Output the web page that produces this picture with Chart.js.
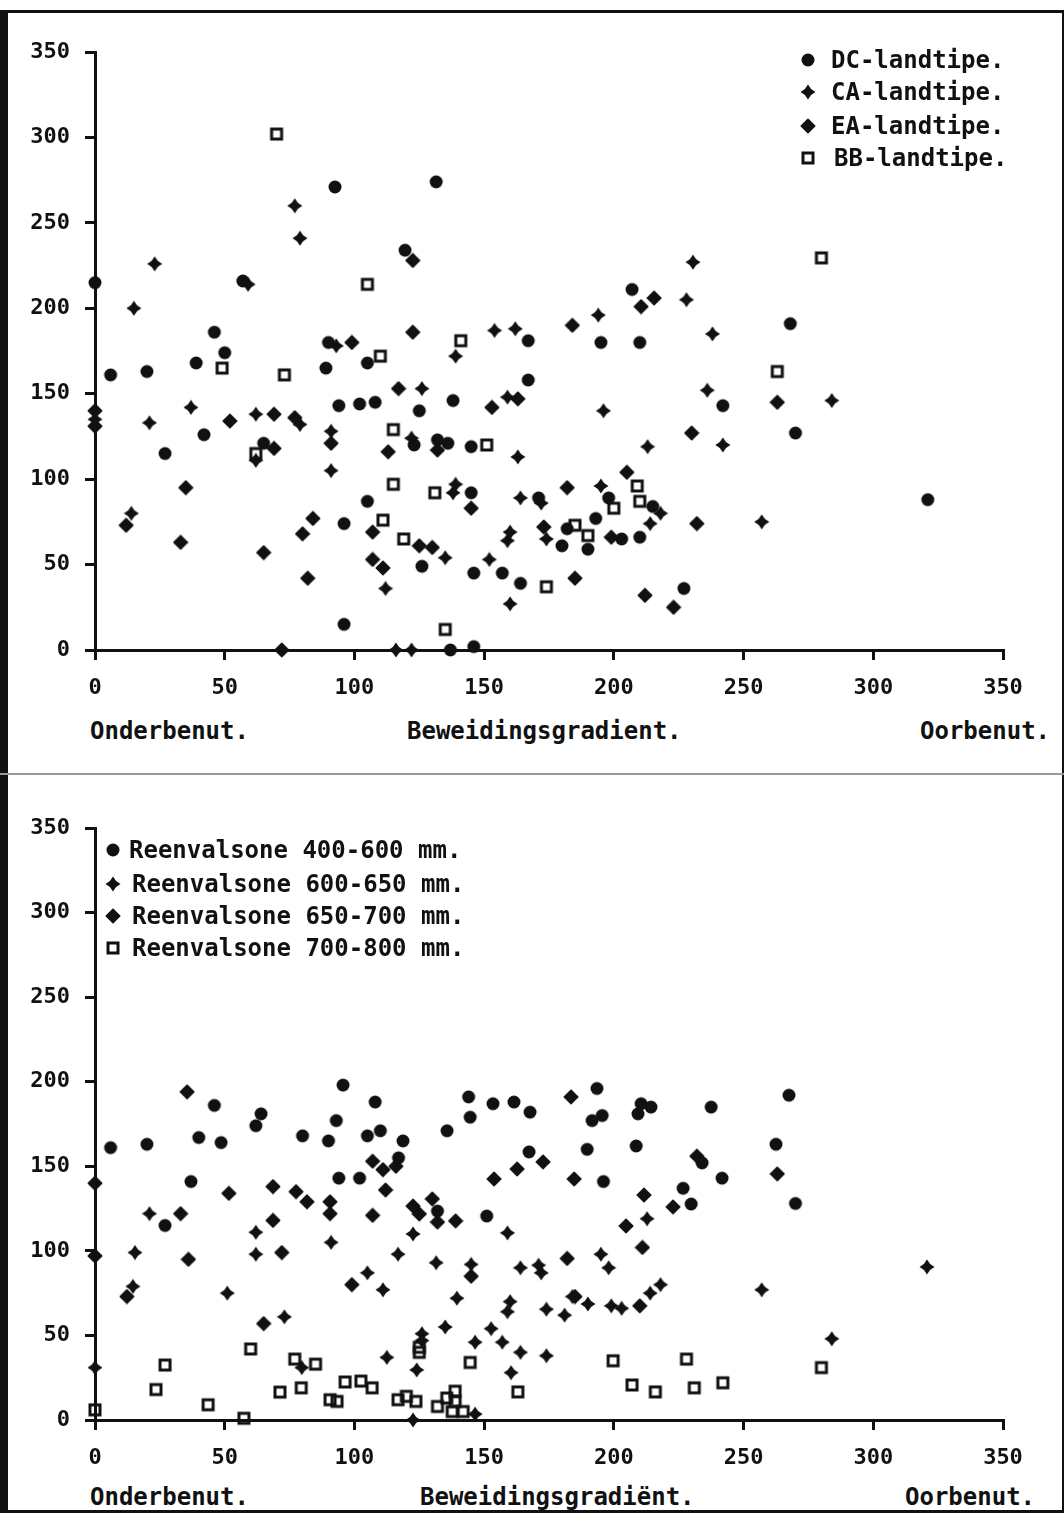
<!DOCTYPE html>
<html lang="af">
<head>
<meta charset="UTF-8">
<title>Beweidingsgradient</title>
<script src="https://cdn.jsdelivr.net/npm/chart.js"></script>
<style>
  body {
    margin: 0;
    width: 1064px;
    height: 1516px;
    position: relative;
    overflow: hidden;
    background: #fff;
    color: #111;
    font-family: 'DejaVu Sans Mono', monospace;
    font-weight: bold;
  }
  .frame {
    position: absolute;
    left: 0; top: 10px;
    width: 1054px; height: 1497px;
    border: 3px solid #111;
    border-left-width: 8px;
    border-right-width: 2px;
  }
  .sep {
    position: absolute;
    left: 0; top: 773px;
    width: 1064px; height: 2px;
    background: #9a9a9a;
  }
  .plot { position: absolute; left: 0; width: 1064px; }
  .caption {
    position: absolute;
    font-size: 24px;
    line-height: 24px;
    white-space: pre;
  }
  .legend { position: absolute; font-size: 24px; line-height: 24px; }
  .legend .row { position: absolute; display: flex; align-items: center; white-space: pre; }
  .legend .mark { display: inline-block; }
</style>
</head>
<body>
<div class="frame"></div>
<div class="sep"></div>

<div class="plot" style="top:0;height:710px"><canvas id="landChart"></canvas></div>
<div class="plot" style="top:780px;height:700px"><canvas id="rainChart"></canvas></div>

<div class="legend" id="landLegend" style="left:800px;top:0"></div>
<div class="legend" id="rainLegend" style="left:105px;top:0"></div>

<div class="caption" style="left:90px;top:719px">Onderbenut.</div>
<div class="caption" style="left:407px;top:719px">Beweidingsgradient.</div>
<div class="caption" style="left:920px;top:719px">Oorbenut.</div>

<div class="caption" style="left:90px;top:1485px">Onderbenut.</div>
<div class="caption" style="left:420px;top:1485px">Beweidingsgradiënt.</div>
<div class="caption" style="left:905px;top:1485px">Oorbenut.</div>

<script>
// axis ticks (both charts)
const xTicks = [0, 50, 100, 150, 200, 250, 300, 350];
const yTicks = [0, 50, 100, 150, 200, 250, 300, 350];

// top chart: land types, [gradient, value]
const landLabels = ['DC-landtipe.', 'CA-landtipe.', 'EA-landtipe.', 'BB-landtipe.'];
const dcPoints = [
  [0,215],[6,161],[20,163],[27,115],[39,168],[42,126],[46,186],[50,174],[57,216],[65,121],
  [89,165],[90,180],[92.5,271],[94,143],[96,74],[96,15],[102,144],[105,168],[105,87],[108,145],
  [119.5,234],[123,120],[125,140],[126,49],[131.5,274],[132,123],[136,121],[137,0],[138,146],[145,119],
  [145,92],[146,45],[146,2],[157,45],[164,39],[167,181],[167,158],[171,89],[180,61],[182,71],
  [190,59],[193,77],[195,180],[198,89],[203,65],[207,211],[210,180],[210,66],[215,84],[227,36],
  [242,143],[268,191],[270,127],[321,88]
];
const caPoints = [
  [0,135],[14,80],[15,200],[21,133],[23,226],[37,142],[59,214],[62,138],[62,111],[77,260],
  [79,241],[79,132],[91,128],[91,105],[93,178],[112,36],[116,0],[122,0],[122,124],[126,153],
  [135,54],[138,92],[139,97],[139,172],[152,53],[154,187],[159,148],[159,64],[160,69],[160,27],
  [162,188],[163,113],[164,89],[172,86],[174,65],[194,196],[195,96],[196,140],[213,119],[214,74],
  [218,80],[228,205],[230.5,227],[236,152],[238,185],[242,120],[257,75],[284,146]
];
const eaPoints = [
  [0,140],[0,131],[12,73],[33,63],[35,95],[52,134],[65,57],[69,138],[69,118],[72,0],
  [77,136],[80,68],[82,42],[84,77],[91,121],[99,180],[107,69],[107,53],[111,48],[113,116],
  [117,153],[122.5,228],[122.5,186],[125,61],[130,60],[132,117],[145,83],[153,142],[163,147],[173,72],
  [182,95],[184,190],[185,42],[199,66],[205,104],[210.5,201],[212,32],[215.5,206],[223,25],[230,127],
  [232,74],[263,145]
];
const bbPoints = [
  [49,165],[62,115],[70,302],[73,161],[105,214],[110,172],[111,76],[115,129],[115,97],[119,65],
  [131,92],[135,12],[141,181],[151,120],[174,37],[185,73],[190,67],[200,83],[209,96],[210,87],
  [263,163],[280,229.5]
];

// bottom chart: rainfall zones
const rainLabels = ['Reenvalsone 400-600 mm.', 'Reenvalsone 600-650 mm.', 'Reenvalsone 650-700 mm.', 'Reenvalsone 700-800 mm.'];
const rain400Points = [
  [6,161],[20,163],[27,115],[37,141],[40,167],[46,186],[48.6,164],[62,174],[64,181],[80,168],
  [90,165],[93,177],[94,143],[95.6,198],[102,143],[105,168],[108,188],[110,171],[117,155],[118.7,165],
  [132,123.5],[135.7,171],[144,191],[144.6,179],[151,120.6],[153.4,187],[161.5,188],[167.3,158.5],[167.7,182],[189.7,160],
  [191.6,177],[193.5,196],[195.5,180],[196,141],[208.6,162],[209.3,181],[210.5,187],[214.3,185],[226.7,137],[229.8,127.7],
  [234,152],[237.5,185],[241.7,143],[262.5,163],[267.5,192],[270,128]
];
const rain600Points = [
  [0,31],[14.6,79],[15.4,99],[21,122],[51,75],[62,111],[62,98],[73,61],[79.7,31],[91,105],
  [105,87],[111,77],[112.5,37],[116.8,98],[122.6,110],[122.6,0],[124,29.6],[126,51],[126,47],[131.5,93],
  [135,55],[139.5,72],[145,92],[146.5,46],[146.5,3.5],[152.7,54],[157,46],[159,110.6],[159,64],[160,70],
  [160.4,28],[164,90],[164,40],[171,91.5],[172,87],[174,65.5],[174,38],[181,62],[184,73],[190,68.6],
  [195,98],[198,90],[199,67.5],[203,66],[212.8,119],[214,75],[218,80],[257,77],[284,48],[320.7,90.5]
];
const rain650Points = [
  [0,140],[0,97],[12.3,73],[33,122],[35.5,194],[36,95],[51.6,134],[65,57],[68.6,138],[68.6,118],
  [72,99],[77.5,135],[81.7,129],[90.6,129],[90.6,122],[99,80],[107,153],[107,121],[111,148],[112,136],
  [116,150],[122.6,126.5],[125,121.8],[130,130.7],[132,117],[139,117.7],[145,85],[153.8,142.5],[162.7,148.4],[172.7,152.6],
  [182,95.5],[183.5,191],[185,73],[184.7,142.5],[204.7,114.7],[210,67.5],[211,102],[211.6,133],[222.8,126],[232,156],
  [263,145.5]
];
const rain700Points = [
  [0,6],[23.5,18],[27,32.5],[43.6,9],[57.4,1],[60,42],[71.3,16.5],[77,36],[79.5,19],[85,33],
  [90.6,12],[93.3,11],[96.4,22.5],[102.5,23],[106.8,19],[116.8,12],[120,14],[123.7,11],[125,43],[125,40],
  [132,8],[135.6,13],[137.7,5],[138.8,17],[138.8,11],[141.9,5],[144.6,34],[163,16.6],[199.7,35],[207,20.7],
  [216,16.6],[228,36],[231,19],[242,22],[280,31]
];

const ink = '#111';
const tickFont = { family: "'DejaVu Sans Mono', monospace", size: 22, weight: 'bold' };

// marker shapes as small canvases, used by chart and legend alike
function makeMarker(kind) {
  const s = 16, m = s / 2;
  const c = document.createElement('canvas');
  c.width = s; c.height = s;
  const g = c.getContext('2d');
  g.fillStyle = ink; g.strokeStyle = ink;
  g.beginPath();
  if (kind == 'circle') {
    g.arc(m, m, 6.5, 0, Math.PI * 2);
    g.fill();
  } else if (kind == 'star') {
    const k = 3.1;
    g.moveTo(m, 0.5); g.lineTo(m + k, m - k); g.lineTo(s - 0.5, m); g.lineTo(m + k, m + k);
    g.lineTo(m, s - 0.5); g.lineTo(m - k, m + k); g.lineTo(0.5, m); g.lineTo(m - k, m - k);
    g.closePath(); g.fill();
  } else if (kind == 'diamond') {
    g.lineJoin = 'round'; g.lineWidth = 1.5;
    g.moveTo(m, 1.2); g.lineTo(s - 1.2, m); g.lineTo(m, s - 1.2); g.lineTo(1.2, m);
    g.closePath(); g.fill(); g.stroke();
  } else {
    g.lineWidth = 3;
    g.strokeRect(3, 3, 10, 10);
  }
  return c;
}
const markers = ['circle', 'star', 'diamond', 'square'].map(makeMarker);

function toXY(points) {
  return points.map(([x, y]) => ({ x, y }));
}

function makeDatasets(labels, seriesList) {
  return seriesList.map((pts, i) => ({
    label: labels[i],
    data: toXY(pts),
    pointStyle: markers[i],
    pointRadius: 7,
    clip: false,
    showLine: false,
  }));
}

function axis(ticks, fit) {
  return {
    type: 'linear',
    min: 0,
    max: 350,
    afterBuildTicks: (scale) => { scale.ticks = ticks.map(v => ({ value: v })); },
    afterFit: fit,
    ticks: { color: ink, font: tickFont, padding: 15, maxRotation: 0, autoSkip: false },
    grid: { drawOnChartArea: false, drawTicks: true, tickLength: 10, color: ink, lineWidth: 3 },
    border: { display: true, color: ink, width: 3 },
  };
}

function renderChart(id, labels, seriesList, topPad) {
  new Chart(document.getElementById(id), {
    type: 'scatter',
    data: { datasets: makeDatasets(labels, seriesList) },
    options: {
      responsive: true,
      maintainAspectRatio: false,
      animation: false,
      layout: { padding: { left: 0, right: 61, top: topPad, bottom: 0 } },
      plugins: { legend: { display: false }, tooltip: { enabled: false } },
      scales: {
        x: axis(xTicks, (s) => { s.height = 60; }),
        y: axis(yTicks, (s) => { s.width = 95; }),
      },
    },
  });
}

function renderLegend(id, labels, rows, textLeft) {
  const box = document.getElementById(id);
  labels.forEach((text, i) => {
    const row = document.createElement('div');
    row.className = 'row';
    row.style.top = (rows[i] - 12) + 'px';
    const mark = document.createElement('span');
    mark.className = 'mark';
    mark.style.width = textLeft[i] + 'px';
    const c = makeMarker(['circle', 'star', 'diamond', 'square'][i]);
    mark.appendChild(c);
    row.appendChild(mark);
    row.appendChild(document.createTextNode(text));
    box.appendChild(row);
  });
}

renderChart('landChart', landLabels, [dcPoints, caPoints, eaPoints, bbPoints], 52);
renderChart('rainChart', rainLabels, [rain400Points, rain600Points, rain650Points, rain700Points], 48);

renderLegend('landLegend', landLabels, [60, 92, 126, 158], [31, 31, 31, 34]);
renderLegend('rainLegend', rainLabels, [850, 884, 916, 948], [24, 27, 27, 27]);
</script>
</body>
</html>
